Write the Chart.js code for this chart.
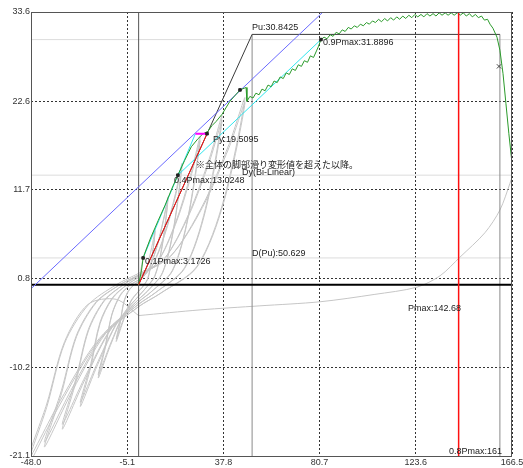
<!DOCTYPE html>
<html>
<head>
<meta charset="utf-8">
<script src="https://cdn.jsdelivr.net/npm/chart.js@4"></script>
<style>
  body { margin: 0; background: #fff; }
  canvas { display: block; }
</style>
</head>
<body>
<canvas id="chart" width="523" height="468"></canvas>
<script>
// Axis ticks
const xTicks = [-48.0, -5.1, 37.8, 80.7, 123.6, 166.5];
const yTicks = [-21.1, -10.2, 0.8, 11.7, 22.6, 33.6];

// Envelope (skeleton) curve, green
const envelope = [
  [0, 0], [1.3, 1.8], [2.0, 3.3], [5.1, 5.6], [8.7, 7.9], [11.8, 9.8], [14.9, 11.9], [17.5, 13.5],
  [20.5, 15.3], [23.5, 17.0], [26.5, 18.0], [28.7, 18.6], [30.9, 18.9], [32.7, 19.6], [34.5, 20.1],
  [37.2, 21.0], [40.7, 22.6], [45.2, 24.0], [47.9, 24.3], [48.3, 22.6],
  [49.6, 23.2], [51.0, 23.0], [52.3, 23.6], [53.7, 23.4], [55.0, 24.1], [56.4, 23.9], [57.7, 24.6],
  [59.1, 24.4], [60.4, 25.1], [61.8, 24.9], [63.1, 25.6], [64.5, 25.4], [65.8, 26.1], [67.2, 25.9],
  [68.5, 26.6], [69.9, 26.4], [71.2, 27.1], [72.6, 26.9], [73.9, 27.6], [75.3, 27.4], [76.6, 28.2],
  [78.0, 28.0], [79.3, 28.8], [80.1, 29.3], [81.3, 30.2], [82.7, 30.5], [84.0, 30.3], [85.4, 30.8],
  [86.7, 30.6], [88.1, 31.1], [89.4, 30.9], [90.8, 31.4], [92.1, 31.2], [93.5, 31.7], [94.8, 31.5],
  [96.2, 31.9], [97.5, 31.7], [98.9, 32.1], [100.2, 31.9], [101.6, 32.3], [102.9, 32.1], [104.3, 32.5],
  [105.6, 32.3], [107.0, 32.7], [108.3, 32.4], [109.7, 32.8], [111.0, 32.5], [112.4, 32.9], [113.7, 32.6],
  [115.1, 33.0], [116.4, 32.7], [117.8, 33.1], [119.1, 32.8], [120.5, 33.2], [121.8, 32.9], [123.2, 33.3],
  [124.5, 33.0], [125.9, 33.3], [127.2, 33.0], [128.6, 33.4], [129.9, 33.1], [131.3, 33.4], [132.6, 33.1],
  [134.0, 33.5], [135.3, 33.2], [136.7, 33.5], [138.0, 33.2], [139.4, 33.5], [140.7, 33.2], [142.1, 33.5],
  [143.4, 33.2], [144.8, 33.5], [146.1, 33.1], [147.5, 33.4], [148.8, 33.0], [150.2, 33.3], [151.5, 32.9],
  [152.9, 33.1], [154.2, 32.6], [155.6, 32.7], [156.7, 32.1], [158.0, 31.6],
  [159.8, 30.5], [161.1, 28.9], [162.5, 26.0], [163.8, 22.3], [165.1, 18.6], [166.5, 15.0]
];

// Hysteresis loops, grey
const loop1 = [
  [0, 0], [2.0, 3.3], [5.1, 5.5], [7.3, 6.8], [5.8, 3.1], [4.0, 0.7], [1.5, -0.35], [0, -0.8],
  [-3.5, -2.1], [-7.0, -4.6], [-10, -7.0], [-8.2, -4.7], [-6.6, -2.2], [-4.5, -0.8], [-2.0, 0], [0, 0.4],
  [2.2, 1.0], [4.4, 2.9], [6.2, 5.1], [7.3, 6.6], [5.8, 3.0], [4.0, 0.7], [1.5, -0.35], [0, -0.8],
  [-3.5, -2.0], [-7.0, -4.4], [-10, -6.7], [-8.2, -4.5], [-6.6, -2.1], [-4.5, -0.7], [-2.0, 0], [0, 0.4]
];
const loop2 = [
  [0, 0.4], [3.9, 1.6], [7.9, 4.5], [11.1, 8.1], [13.1, 10.8], [10.5, 4.9], [7.2, 1.1], [2.6, -0.6], [0, -1.4],
  [-6.3, -3.5], [-12.6, -7.5], [-18, -11.5], [-14.8, -7.7], [-11.9, -3.7], [-8.1, -1.3], [-3.6, 0], [0, 0.6],
  [3.9, 1.6], [7.9, 4.4], [11.1, 7.9], [13.1, 10.5], [10.5, 4.7], [7.2, 1.0], [2.6, -0.6], [0, -1.4],
  [-6.3, -3.4], [-12.6, -7.3], [-18, -11.1], [-14.8, -7.4], [-11.9, -3.6], [-8.1, -1.2], [-3.6, 0], [0, 0.6]
];
const loop3 = [
  [0, 0.6], [5.8, 2.2], [11.6, 6.3], [16.4, 11.2], [19.3, 14.9], [15.4, 6.7], [10.6, 1.5], [3.9, -0.8], [0, -1.8],
  [-9.1, -4.5], [-18.2, -9.8], [-26, -15.0], [-21.3, -10.1], [-17.2, -4.8], [-11.7, -1.7], [-5.2, 0], [0, 0.9],
  [5.8, 2.2], [11.6, 6.1], [16.4, 10.9], [19.3, 14.5], [15.4, 6.5], [10.6, 1.4], [3.9, -0.8], [0, -1.8],
  [-9.1, -4.4], [-18.2, -9.5], [-26, -14.5], [-21.3, -9.7], [-17.2, -4.6], [-11.7, -1.6], [-5.2, 0], [0, 0.9]
];
const loop4 = [
  [0, 0.9], [8.2, 2.7], [16.4, 7.6], [23.3, 13.7], [27.4, 18.2], [21.9, 8.2], [15.1, 1.8], [5.5, -0.9], [0, -2.1],
  [-11.9, -5.3], [-23.8, -11.6], [-34, -17.8], [-27.9, -11.9], [-22.4, -5.7], [-15.3, -2.0], [-6.8, 0], [0, 1.1],
  [8.2, 2.7], [16.4, 7.4], [23.3, 13.3], [27.4, 17.7], [21.9, 8.0], [15.1, 1.7], [5.5, -0.9], [0, -2.1],
  [-11.9, -5.2], [-23.8, -11.3], [-34, -17.2], [-27.9, -11.5], [-22.4, -5.5], [-15.3, -1.9], [-6.8, 0], [0, 1.1]
];
const loop5 = [
  [0, 1.1], [11.2, 3.1], [22.3, 8.7], [31.6, 15.6], [37.2, 20.8], [29.8, 9.4], [20.5, 2.1], [7.4, -1.0], [0, -2.4],
  [-14.7, -6.0], [-29.4, -13.0], [-42, -20.0], [-34.4, -13.4], [-27.7, -6.4], [-18.9, -2.2], [-8.4, 0], [0, 1.2],
  [11.2, 3.1], [22.3, 8.5], [31.6, 15.2], [37.2, 20.2], [29.8, 9.1], [20.5, 2.0], [7.4, -1.0], [0, -2.4],
  [-14.7, -5.8], [-29.4, -12.6], [-42, -19.4], [-34.4, -13.0], [-27.7, -6.2], [-18.9, -2.1], [-8.4, 0], [0, 1.2]
];
const loop6 = [
  [0, 1.2], [14.2, 3.5], [28.4, 9.7], [40.3, 17.3], [47.4, 23.0], [37.9, 10.4], [26.1, 2.3], [9.5, -1.1], [0, -2.7],
  [-17.5, -6.8], [-35.0, -14.7], [-50, -22.6], [-41, -15.1], [-33, -7.2], [-22.5, -2.5], [-10, 0], [0, 1.4],
  [14.2, 3.5], [28.4, 9.5], [40.3, 16.9], [47.4, 22.4], [37.9, 10.1], [26.1, 2.2], [9.5, -1.1], [0, -2.7],
  [-17.5, -6.6], [-35.0, -14.3], [-50, -22.0], [-41, -14.7], [-33, -7.0], [-22.5, -2.4], [-10, -1.8], [0, -3.8]
];
const finalPush = [
  [0, -3.8], [27.4, -3.1], [54.1, -2.6], [80.9, -2.1], [105.0, -1.2], [124.1, -0.3], [134.4, 1.1],
  [143.3, 3.4], [154.4, 6.4], [161.1, 9.2], [165.6, 12.5], [168.0, 14.5]
];

// Evaluation lines
const bilinear = [[0, 0], [50.6, 30.84], [161.1, 30.84]];
const elasticLine = [[0, 0], [30.5, 18.6]];
const pyLine = [[25.3, 18.6], [30.5, 18.6]];
const cyanLine1 = [[2.0, 3.3], [25.3, 18.6]];
const cyanLine2 = [[17.5, 13.5], [81.3, 30.2]];
const blueLine = [[-48, -0.5], [82.2, 33.6]];
const pmaxLine = [[142.7, -21.1], [142.7, 33.6]];
const dPuLine = [[50.6, -21.1], [50.6, 30.84]];
const d08Line = [[161.1, -21.1], [161.1, 30.84]];
const level09 = [[-48, 30.2], [166.5, 30.2]];
const level04 = [[-48, 13.5], [166.5, 13.5]];
const level01 = [[-48, 3.3], [166.5, 3.3]];
const zeroX = [[0, -21.1], [0, 33.6]];
const zeroY = [[-48, 0], [166.5, 0]];

// Marked points
const keyPoints = [[2.0, 3.3], [17.5, 13.5], [30.5, 18.6], [45.2, 24.0], [81.3, 30.2]];
const dropPoint = [[160.7, 26.9]];

// Text labels (data coordinates, left / middle)
const notes = [
  { text: 'Pu:30.8425', x: 50.6, y: 31.75 },
  { text: '0.9Pmax:31.8896', x: 82.2, y: 29.9 },
  { text: 'Py:19.5095', x: 33.2, y: 17.95 },
  { text: '※全体の脚部滑り変形値を超えた以降。', x: 25.6, y: 14.75, cjk: true },
  { text: 'Dy(Bi-Linear)', x: 46.1, y: 13.8 },
  { text: '0.4Pmax:13.0248', x: 15.8, y: 12.8 },
  { text: '0.1Pmax:3.1726', x: 2.8, y: 2.8 },
  { text: 'D(Pu):50.629', x: 50.5, y: 3.9 },
  { text: 'Pmax:142.68', x: 120.1, y: -2.9 },
  { text: '0.8Pmax:161', x: 138.4, y: -20.6 }
];

const pts = arr => arr.map(([x, y]) => ({ x, y }));

function series(data, color, width, order, tension = 0) {
  return {
    data: pts(data),
    showLine: true,
    borderColor: color,
    borderWidth: width,
    pointRadius: 0,
    tension: tension,
    order: order
  };
}

const loopColor = '#c6c6c6';

const datasets = [
  series(loop1, loopColor, 1, 20, 0.3),
  series(loop2, loopColor, 1, 20, 0.3),
  series(loop3, loopColor, 1, 20, 0.3),
  series(loop4, loopColor, 1, 20, 0.3),
  series(loop5, loopColor, 1, 20, 0.3),
  series(loop6, loopColor, 1, 20, 0.3),
  series(finalPush, loopColor, 1, 20, 0.3),
  series(level09, '#dcdcdc', 1, 19),
  series(level04, '#dcdcdc', 1, 19),
  series(level01, '#dcdcdc', 1, 19),
  series(dPuLine, '#8a8a8a', 1, 18),
  series(d08Line, '#8a8a8a', 1, 18),
  series(zeroX, '#555555', 1, 17),
  series(zeroY, '#000000', 2, 17),
  series(bilinear, '#3a3a3a', 1, 8),
  series(blueLine, '#6a6aff', 1, 7),
  series(cyanLine1, '#2ee6ee', 1, 6),
  series(cyanLine2, '#2ee6ee', 1, 6),
  series(envelope, '#2a9a2a', 1, 5),
  series(elasticLine, '#ff1010', 1, 4),
  series(pmaxLine, '#ff1010', 1.5, 4),
  series(pyLine, '#ff00ff', 2, 3),
  {
    data: pts(keyPoints),
    pointStyle: 'rect',
    pointRadius: 1.8,
    backgroundColor: '#222',
    borderColor: '#222',
    order: 1
  },
  {
    data: pts(dropPoint),
    pointStyle: 'crossRot',
    pointRadius: 3,
    borderColor: '#444',
    borderWidth: 1,
    order: 1
  }
];

// Text labels drawn through the scales
const notesPlugin = {
  id: 'notes',
  afterDatasetsDraw(chart) {
    const { ctx, scales: { x, y } } = chart;
    ctx.save();
    ctx.fillStyle = '#222';
    ctx.textBaseline = 'middle';
    notes.forEach(n => {
      ctx.font = n.cjk ? '9px "Noto Sans CJK JP"' : '9px "Liberation Sans", Arial, sans-serif';
      ctx.fillText(n.text, x.getPixelForValue(n.x), y.getPixelForValue(n.y));
    });
    ctx.restore();
  }
};

// Plot frame
const framePlugin = {
  id: 'frame',
  afterDraw(chart) {
    const { ctx, chartArea: a } = chart;
    ctx.save();
    ctx.strokeStyle = '#555';
    ctx.lineWidth = 1;
    ctx.strokeRect(a.left + 0.5, a.top + 0.5, a.right - a.left - 1, a.bottom - a.top);
    ctx.restore();
  }
};

const tickFont = { family: '"Liberation Sans", Arial, sans-serif', size: 9 };

new Chart(document.getElementById('chart'), {
  type: 'scatter',
  data: { datasets },
  options: {
    responsive: false,
    animation: false,
    devicePixelRatio: 1,
    layout: { padding: { top: 12, right: 11, left: 0, bottom: 0 } },
    plugins: {
      legend: { display: false },
      tooltip: { enabled: false }
    },
    scales: {
      x: {
        type: 'linear',
        min: xTicks[0],
        max: xTicks[xTicks.length - 1],
        afterBuildTicks: s => { s.ticks = xTicks.map(v => ({ value: v })); },
        afterFit: s => { s.height = 12; s.paddingLeft = 0; s.paddingRight = 0; },
        ticks: {
          autoSkip: false,
          maxRotation: 0,
          padding: 1,
          color: '#333',
          font: tickFont,
          callback: v => Number(v).toFixed(1)
        },
        grid: { color: '#333', drawTicks: false },
        border: { display: false, dash: [2, 2] }
      },
      y: {
        type: 'linear',
        min: yTicks[0],
        max: yTicks[yTicks.length - 1],
        afterBuildTicks: s => { s.ticks = yTicks.map(v => ({ value: v })); },
        afterFit: s => { s.width = 31; s.paddingTop = 0; s.paddingBottom = 0; },
        ticks: {
          autoSkip: false,
          padding: 1,
          color: '#333',
          font: tickFont,
          callback: v => Number(v).toFixed(1)
        },
        grid: { color: '#333', drawTicks: false },
        border: { display: false, dash: [2, 2] }
      }
    }
  },
  plugins: [notesPlugin, framePlugin]
});
</script>
</body>
</html>
